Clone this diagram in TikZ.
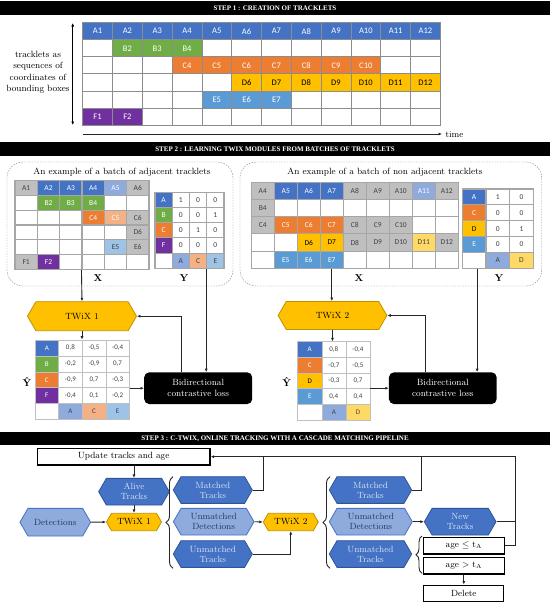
\documentclass[tikz,border=0pt]{standalone}
\usepackage{fontspec}
\usepackage{tikz}
\usetikzlibrary{arrows.meta,positioning,calc,shapes.symbols,decorations.pathreplacing}
\newfontfamily\cellfont{Carlito}
\newfontfamily\headfont{Liberation Serif}
\definecolor{colA}{HTML}{4472C4}
\definecolor{colB}{HTML}{70AD47}
\definecolor{colC}{HTML}{ED7D31}
\definecolor{colD}{HTML}{FFC000}
\definecolor{colE}{HTML}{5B9BD5}
\definecolor{colF}{HTML}{7030A0}
\definecolor{colG}{HTML}{BFBFBF}
\definecolor{lightA}{HTML}{8FAADC}
\definecolor{lightC}{HTML}{F4B183}
\definecolor{lightD}{HTML}{FFD966}
\definecolor{lightE}{HTML}{9DC3E6}
\definecolor{gridgray}{HTML}{8C8C8C}
\definecolor{cellgray}{HTML}{A6A6A6}
\definecolor{darkblue}{HTML}{2F5597}
\definecolor{paleblue}{HTML}{DAE3F3}
\definecolor{navy}{HTML}{203864}
\definecolor{darkyellow}{HTML}{BF9000}
\definecolor{inktext}{HTML}{404040}
\tikzset{
  head/.style={fill=black, minimum width=550pt, minimum height=13.5pt, inner sep=0pt,
               text=white, font=\headfont\bfseries\fontsize{7}{8}\selectfont},
  cell/.style={draw=gridgray, line width=0.8pt, fill=white, inner sep=0pt, text=white},
  stepone/.style={cell, minimum width=29.8pt, minimum height=17.05pt, font=\cellfont\fontsize{8.5}{9}\selectfont},
  batchcell/.style={cell, draw=cellgray, line width=1.1pt, font=\cellfont\fontsize{7.5}{8}\selectfont},
  sA/.style={fill=colA}, sB/.style={fill=colB}, sC/.style={fill=colC},
  sD/.style={fill=colD, text=black}, sE/.style={fill=colE}, sF/.style={fill=colF},
  sG/.style={fill=colG, text=inktext},
  sLA/.style={fill=lightA}, sLC/.style={fill=lightC},
  sLD/.style={fill=lightD, text=inktext}, sLE/.style={fill=lightE, text=inktext},
  keyA/.style={fill=lightA, text=inktext}, keyC/.style={fill=lightC, text=inktext},
  keyD/.style={fill=lightD, text=inktext}, keyE/.style={fill=lightE, text=inktext},
  num/.style={text=inktext},
  hexbox/.style={shape=signal, signal to=east and west, signal pointer angle=120,
                 inner sep=0pt, align=center, line width=0.8pt, font=\fontsize{9}{10}\selectfont},
  track/.style={hexbox, fill=colA, draw=darkblue, text=paleblue, minimum width=79pt, minimum height=26.7pt},
  detect/.style={hexbox, fill=lightA, draw=colA, text=navy, minimum width=79pt, minimum height=26.7pt},
  twix/.style={hexbox, fill=colD, draw=darkyellow, text=black},
  lossbox/.style={fill=black, rounded corners=5pt, text=white, align=center, inner sep=0pt,
                  minimum width=108pt, minimum height=31.7pt, font=\fontsize{9}{11}\selectfont},
  plainbox/.style={draw=black, line width=1.2pt, fill=white, inner sep=0pt, font=\fontsize{9}{10}\selectfont},
  batch/.style={draw=gray, dash pattern=on 1.5pt off 1.2pt, rounded corners=16pt, inner sep=0pt},
  arr/.style={-{Latex[length=3.5pt,width=3pt]}, line width=0.9pt, draw=black!85},
  line/.style={line width=0.9pt, draw=black!85},
  curly/.style={decorate, decoration={brace, amplitude=7pt}, line width=0.9pt, draw=black!85},
  bigletter/.style={font=\fontsize{10}{10}\selectfont\bfseries}
}

\begin{document}
\begin{tikzpicture}[x=1pt, y=-1pt]
\useasboundingbox (0,0) rectangle (550,605);

% ---- step 1
\node[head] (head1) at (275,8) {STEP 1 : CREATION OF TRACKLETS};
\begin{scope}[shift={(82.7,22.7)}, x=29.8pt, y=-17.05pt]
  \foreach \r in {1,...,6}
    \foreach \c in {1,...,12}
      \node[stepone] (t-\r-\c) at (\c-0.5,\r-0.5) {};
  \foreach \c in {1,...,12} \node[stepone, sA] (t-1-\c) at (\c-0.5,0.5) {A\c};
  \foreach \c in {2,...,4} \node[stepone, sB] (t-2-\c) at (\c-0.5,1.5) {B\c};
  \foreach \c in {4,...,10} \node[stepone, sC] (t-3-\c) at (\c-0.5,2.5) {C\c};
  \foreach \c in {6,...,12} \node[stepone, sD] (t-4-\c) at (\c-0.5,3.5) {D\c};
  \foreach \c in {5,...,7} \node[stepone, sE] (t-5-\c) at (\c-0.5,4.5) {E\c};
  \foreach \c in {1,2} \node[stepone, sF] (t-6-\c) at (\c-0.5,5.5) {F\c};
\end{scope}
\node[align=center, font=\fontsize{9}{11.5}\selectfont] (tracklbl) at (38,72.5)
  {tracklets as\\sequences of\\coordinates of\\bounding boxes};
\coordinate (tracktop) at (72.7,23);
\coordinate (trackbot) at (72.7,125);
\draw[{Latex[length=3.5pt,width=3pt]}-{Latex[length=3.5pt,width=3pt]}, line width=1.1pt] (tracktop) -- (trackbot);
\node[anchor=west, font=\fontsize{9}{10}\selectfont] (timelbl) at (442,135) {time};
\coordinate (timestart) at (82.7,134);
\draw[arr] (timestart) -- (timestart -| timelbl.west);

% ---- step 2
\node[head] (head2) at (275,149) {STEP 2 : LEARNING TWIX MODULES FROM BATCHES OF TRACKLETS};
\node[batch, minimum width=226pt, minimum height=124pt] (batchL) at (120,224) {};
\node[batch, minimum width=301.7pt, minimum height=124pt] (batchR) at (390.85,224) {};
\node[font=\fontsize{9}{10}\selectfont] (titleL) at (122,172) {An example of a batch of adjacent tracklets};
\node[font=\fontsize{9}{10}\selectfont] (titleR) at (385,172) {An example of a batch of non adjacent tracklets};

% adjacent batch, X
\begin{scope}[shift={(15,180.7)}, x=22.33pt, y=-14.77pt]
  \foreach \r in {1,...,6}
    \foreach \c in {1,...,6}
      \node[batchcell, minimum width=22.33pt, minimum height=14.77pt] (xl-\r-\c) at (\c-0.5,\r-0.5) {};
  \foreach \r/\c/\t/\s in {1/1/A1/sG, 1/2/A2/sA, 1/3/A3/sA, 1/4/A4/sA, 1/5/A5/sLA, 1/6/A6/sG,
      2/2/B2/sB, 2/3/B3/sB, 2/4/B4/sB, 3/4/C4/sC, 3/5/C5/sLC, 3/6/C6/sG, 4/6/D6/sG,
      5/5/E5/sLE, 5/6/E6/sG, 6/1/F1/sG, 6/2/F2/sF}
    \node[batchcell, minimum width=22.33pt, minimum height=14.77pt, \s] (xl-\r-\c) at (\c-0.5,\r-0.5) {\t};
\end{scope}
% adjacent batch, Y
\begin{scope}[shift={(155,192.3)}, x=17.25pt, y=-15.2pt]
  \tikzset{ycell/.style={batchcell, minimum width=17.25pt, minimum height=15.2pt}}
  \foreach \r/\k/\s/\a/\b/\c in {1/A/sA/1/0/0, 2/B/sB/0/0/1, 3/C/sC/0/1/0, 4/F/sF/0/0/0} {
    \node[ycell, \s] (yl-\r-1) at (0.5,\r-0.5) {\k};
    \node[ycell, num] (yl-\r-2) at (1.5,\r-0.5) {\a};
    \node[ycell, num] (yl-\r-3) at (2.5,\r-0.5) {\b};
    \node[ycell, num] (yl-\r-4) at (3.5,\r-0.5) {\c};
  }
  \node[ycell] (yl-5-1) at (0.5,4.5) {};
  \node[ycell, keyA] (yl-5-2) at (1.5,4.5) {A};
  \node[ycell, keyC] (yl-5-3) at (2.5,4.5) {C};
  \node[ycell, keyE] (yl-5-4) at (3.5,4.5) {E};
\end{scope}
\node[bigletter] (xlabL) at (98,278) {X};
\node[bigletter] (ylabL) at (184,278) {Y};

% non adjacent batch, X
\begin{scope}[shift={(251.3,182.3)}, x=23pt, y=-17.2pt]
  \foreach \r in {1,...,5}
    \foreach \c in {1,...,9}
      \node[batchcell, minimum width=23pt, minimum height=17.2pt] (xr-\r-\c) at (\c-0.5,\r-0.5) {};
  \foreach \r/\c/\t/\s in {1/1/A4/sG, 1/2/A5/sA, 1/3/A6/sA, 1/4/A7/sA, 1/5/A8/sG, 1/6/A9/sG,
      1/7/A10/sG, 1/8/A11/sLA, 1/9/A12/sG, 2/1/B4/sG,
      3/1/C4/sG, 3/2/C5/sC, 3/3/C6/sC, 3/4/C7/sC, 3/5/C8/sG, 3/6/C9/sG, 3/7/C10/sG,
      4/3/D6/sD, 4/4/D7/sD, 4/5/D8/sG, 4/6/D9/sG, 4/7/D10/sG, 4/8/D11/sLD, 4/9/D12/sG,
      5/2/E5/sE, 5/3/E6/sE, 5/4/E7/sE}
    \node[batchcell, minimum width=23pt, minimum height=17.2pt, \s] (xr-\r-\c) at (\c-0.5,\r-0.5) {\t};
\end{scope}
% non adjacent batch, Y
\begin{scope}[shift={(462.3,189)}, x=23.67pt, y=-15.85pt]
  \tikzset{ycell/.style={batchcell, minimum width=23.67pt, minimum height=15.85pt}}
  \foreach \r/\k/\s/\a/\b in {1/A/sA/1/0, 2/C/sC/0/0, 3/D/sD/0/1, 4/E/sE/0/0} {
    \node[ycell, \s] (yr-\r-1) at (0.5,\r-0.5) {\k};
    \node[ycell, num] (yr-\r-2) at (1.5,\r-0.5) {\a};
    \node[ycell, num] (yr-\r-3) at (2.5,\r-0.5) {\b};
  }
  \node[ycell] (yr-5-1) at (0.5,4.5) {};
  \node[ycell, keyA] (yr-5-2) at (1.5,4.5) {A};
  \node[ycell, keyD] (yr-5-3) at (2.5,4.5) {D};
\end{scope}
\node[bigletter] (xlabR) at (359,278) {X};
\node[bigletter] (ylabR) at (499,278) {Y};

% TWiX modules and losses
\node[twix, minimum width=109pt, minimum height=29pt] (twixA) at (82,316.2) {TWiX 1};
\node[twix, minimum width=108.7pt, minimum height=28pt] (twixB) at (332.5,315.5) {TWiX 2};
\node[lossbox] (lossA) at (198.2,388.2) {Bidirectional\\contrastive loss};
\node[lossbox, minimum width=107.7pt] (lossB) at (442.8,388.2) {Bidirectional\\contrastive loss};

% predicted similarities
\begin{scope}[shift={(35,340)}, x=23.6pt, y=-15.9pt]
  \tikzset{hcell/.style={cell, draw=colG, line width=0.6pt, minimum width=23.6pt, minimum height=15.9pt,
                         font=\cellfont\fontsize{7}{8}\selectfont}}
  \foreach \r/\k/\s/\a/\b/\c in {1/A/sA/{0,8}/{-0,5}/{-0,4}, 2/B/sB/{-0,2}/{-0,9}/{0,7},
      3/C/sC/{-0,9}/{0,7}/{-0,3}, 4/F/sF/{-0,4}/{0,1}/{-0,2}} {
    \node[hcell, \s] (yhl-\r-1) at (0.5,\r-0.5) {\k};
    \node[hcell, num] (yhl-\r-2) at (1.5,\r-0.5) {\a};
    \node[hcell, num] (yhl-\r-3) at (2.5,\r-0.5) {\b};
    \node[hcell, num] (yhl-\r-4) at (3.5,\r-0.5) {\c};
  }
  \node[hcell] (yhl-5-1) at (0.5,4.5) {};
  \node[hcell, keyA] (yhl-5-2) at (1.5,4.5) {A};
  \node[hcell, keyC] (yhl-5-3) at (2.5,4.5) {C};
  \node[hcell, keyE] (yhl-5-4) at (3.5,4.5) {E};
\end{scope}
\begin{scope}[shift={(297.7,341.7)}, x=24.1pt, y=-15.66pt]
  \tikzset{hcell/.style={cell, draw=colG, line width=0.6pt, minimum width=24.1pt, minimum height=15.66pt,
                         font=\cellfont\fontsize{7}{8}\selectfont}}
  \foreach \r/\k/\s/\a/\b in {1/A/sA/{0,8}/{-0,4}, 2/C/sC/{-0,7}/{-0,5},
      3/D/sD/{-0,3}/{0,7}, 4/E/sE/{0,4}/{0,4}} {
    \node[hcell, \s] (yhr-\r-1) at (0.5,\r-0.5) {\k};
    \node[hcell, num] (yhr-\r-2) at (1.5,\r-0.5) {\a};
    \node[hcell, num] (yhr-\r-3) at (2.5,\r-0.5) {\b};
  }
  \node[hcell] (yhr-5-1) at (0.5,4.5) {};
  \node[hcell, keyA] (yhr-5-2) at (1.5,4.5) {A};
  \node[hcell, keyD] (yhr-5-3) at (2.5,4.5) {D};
\end{scope}
\node[bigletter] (yhatL) at (27,381.7) {\^{Y}};
\node[bigletter] (yhatR) at (286.7,381.7) {\^{Y}};

\draw[arr] (xl-6-4.south west) -- (twixA.north);
\draw[arr] (twixA.south) -- (twixA.south |- yhl-1-1.north);
\draw[arr] (lossA.west -| yhl-3-4.east) -- (lossA.west);
\draw[arr] ([xshift=-17pt]lossA.north) |- (twixA.east);
\draw[arr] (yl-5-4.south west) -- (yl-5-4.south west |- lossA.north);
\draw[arr] (xr-5-4.south) -- (xr-5-4.south |- twixB.north);
\draw[arr] (twixB.south) -- (twixB.south |- yhr-1-2.north);
\draw[arr] (lossB.west -| yhr-3-3.east) -- (lossB.west);
\draw[arr] ([xshift=-17.8pt]lossB.north) |- (twixB.east);
\draw[arr] ([xshift=3pt]yr-5-1.south) -- ([xshift=3pt]yr-5-1.south |- lossB.north);

% ---- step 3
\node[head] (head3) at (275,438.3) {STEP 3 : C-TWIX, ONLINE TRACKING WITH A CASCADE MATCHING PIPELINE};
\node[plainbox, minimum width=172.7pt, minimum height=16.7pt] (update) at (123.7,456.7) {Update tracks and age};
\node[track, minimum width=70.7pt] (alive) at (134,491.7) {Alive\\Tracks};
\node[detect, minimum width=70.7pt, minimum height=27.7pt] (detect) at (55.3,522.2) {Detections};
\node[twix, minimum width=55pt, minimum height=17.4pt] (twixC) at (134,522) {TWiX 1};
\node[track] (matchA) at (212.8,490) {Matched\\Tracks};
\node[detect, minimum width=80.7pt] (unmdetA) at (213.7,521.7) {Unmatched\\Detections};
\node[track] (unmtrkA) at (212.8,554) {Unmatched\\Tracks};
\node[twix, minimum width=55pt, minimum height=17.4pt] (twixD) at (290.8,522) {TWiX 2};
\node[track, minimum width=82.4pt] (matchB) at (370.5,490) {Matched\\Tracks};
\node[detect, minimum width=83pt] (unmdetB) at (370.8,521.7) {Unmatched\\Detections};
\node[track, minimum width=82.4pt] (unmtrkB) at (370.5,554) {Unmatched\\Tracks};
\node[track, minimum width=71.7pt] (newtrk) at (460.2,521.7) {New\\Tracks};
\node[plainbox, minimum width=81pt, minimum height=16.7pt] (ageleq) at (463.8,545.7) {age $\leq$ t\textsubscript{A}};
\node[plainbox, minimum width=81pt, minimum height=16.7pt, below=2pt of ageleq] (agegt) {age $>$ t\textsubscript{A}};
\node[plainbox, minimum width=80pt, minimum height=16.7pt, below=10pt of agegt] (delete) {Delete};

\draw[curly] (173,568.3) -- (173,476.7);
\draw[curly] (330,568.3) -- (330,476.7);
\draw[curly, decoration={brace, amplitude=6pt}] (422,573.3) -- (422,536);

\draw[arr] (update.south -| alive.north) -- (alive.north);
\draw[arr] (alive.south) -- (twixC.north);
\draw[arr] (detect.east) -- (twixC.west);
\draw[arr] (unmdetA.east) -- (twixD.west);
\draw[arr] (unmtrkA.east) -| (twixD.south);
\draw[arr] (unmdetB.east) -- (newtrk.west);
\draw[arr] (agegt.south) -- (delete.north);
\coordinate (loopR) at (515,456.7);
\coordinate (joinA) at (263.3,456.7);
\coordinate (joinB) at (421.7,456.7);
\draw[arr] (ageleq.east) -| (loopR) -- (update.east);
\draw[line] (newtrk.east) -- (newtrk.east -| loopR);
\draw[line] (matchA.east) -| (joinA);
\draw[line] (matchB.east) -| (joinB);
\end{tikzpicture}
\end{document}
